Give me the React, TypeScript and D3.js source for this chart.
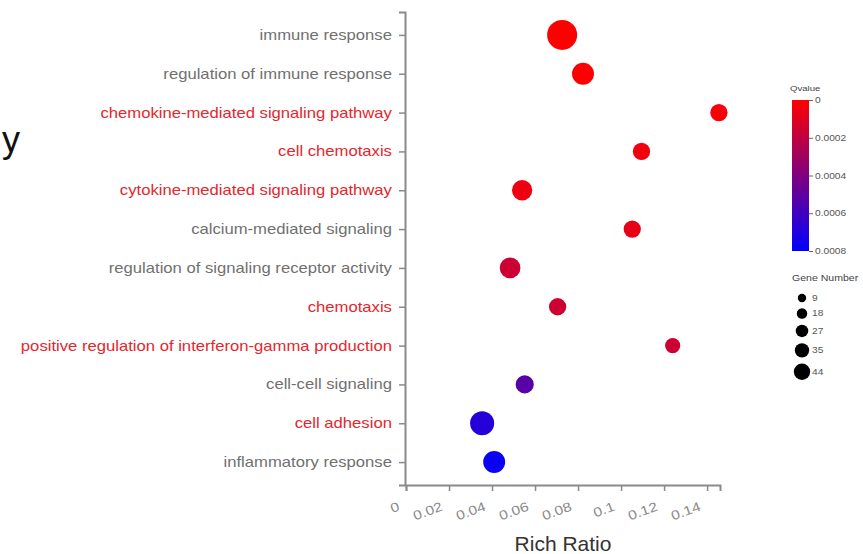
import { useEffect, useRef } from 'react';
import * as d3 from 'd3';

// GO terms, top to bottom
const terms = [
  'immune response',
  'regulation of immune response',
  'chemokine-mediated signaling pathway',
  'cell chemotaxis',
  'cytokine-mediated signaling pathway',
  'calcium-mediated signaling',
  'regulation of signaling receptor activity',
  'chemotaxis',
  'positive regulation of interferon-gamma production',
  'cell-cell signaling',
  'cell adhesion',
  'inflammatory response',
];
const highlighted = [
  'chemokine-mediated signaling pathway',
  'cell chemotaxis',
  'cytokine-mediated signaling pathway',
  'chemotaxis',
  'positive regulation of interferon-gamma production',
  'cell adhesion',
];
const richRatio = [0.0726, 0.0823, 0.1455, 0.1095, 0.0540, 0.1052, 0.0484, 0.0705, 0.1240, 0.0552, 0.0354, 0.0410];
const geneNumber = [44, 25, 14, 14, 21, 14, 22, 14, 9, 16, 30, 25];
const qValue = [0.000003, 0.00001, 0.00002, 0.00004, 0.00005, 0.00007, 0.00016, 0.00016, 0.00016, 0.00052, 0.00068, 0.00077];

const xTicks = [0, 0.02, 0.04, 0.06, 0.08, 0.1, 0.12, 0.14];
const qTicks = [0, 0.0002, 0.0004, 0.0006, 0.0008];
const sizeTicks = [9, 18, 27, 35, 44];

const W = 863;
const H = 554;
const FONT = 'Arial, "Liberation Sans", sans-serif';
const AXIS = '#8a8a8a';
const GREY_TEXT = '#707070';
const RED_TEXT = '#e5262d';

const App = () => {
  const ref = useRef<SVGSVGElement>(null);

  useEffect(() => {
    if (!ref.current) return;
    const svg = d3.select(ref.current);
    svg.selectAll('*').remove();

    const x = d3.scaleLinear().domain([0, 0.146]).range([406, 720]);
    const y = d3.scalePoint().domain(terms).range([12, 485]).padding(0.59);
    const color = d3.scaleLinear<string>().domain([0, 0.0008]).range(['#ff0000', '#0000ff']);
    const size = d3.scaleLinear().domain([9, 44]).range([7.6, 15]);
    const legendSize = d3.scaleLinear().domain([9, 44]).range([4.2, 8.2]);

    // left fragment of a cut-off title
    svg.append('text')
      .attr('x', 2)
      .attr('y', 152)
      .style('font-family', FONT)
      .style('font-size', '36px')
      .attr('fill', '#111')
      .text('y');

    // y axis
    const yAxis = svg.append('g')
      .attr('transform', 'translate(405,0)')
      .call(d3.axisLeft(y).tickSize(6).tickPadding(5));
    yAxis.select('.domain').attr('stroke', AXIS).attr('stroke-width', 2);
    yAxis.selectAll('.tick line').attr('stroke', AXIS).attr('stroke-width', 1.5);
    yAxis.selectAll<SVGTextElement, string>('.tick text')
      .style('font-family', FONT)
      .style('font-size', '14px')
      .attr('fill', d => (highlighted.includes(d) ? RED_TEXT : GREY_TEXT))
      .attr('transform', 'scale(1.19,1)');

    // x axis
    const xAxis = svg.append('g')
      .attr('transform', 'translate(0,485)')
      .call(d3.axisBottom(x).tickValues(xTicks).tickSize(6).tickFormat(d => String(d)));
    xAxis.select('.domain').attr('stroke', AXIS).attr('stroke-width', 2);
    xAxis.selectAll('.tick line').attr('stroke', AXIS).attr('stroke-width', 1.5);
    xAxis.selectAll('.tick text')
      .attr('x', 0)
      .attr('y', 0)
      .attr('dy', 0)
      .style('text-anchor', 'end')
      .style('font-family', FONT)
      .style('font-size', '13px')
      .attr('fill', '#8a8a8a')
      .attr('transform', 'translate(-6,25) rotate(-20) scale(1.2,1)');

    svg.append('text')
      .attr('x', (x.range()[0] + x.range()[1]) / 2)
      .attr('y', 551)
      .style('text-anchor', 'middle')
      .style('font-family', FONT)
      .style('font-size', '21px')
      .attr('fill', '#333')
      .text('Rich Ratio');

    // bubbles
    svg.append('g')
      .selectAll('circle')
      .data(terms)
      .enter()
      .append('circle')
      .attr('cx', (_, i) => x(richRatio[i]))
      .attr('cy', d => y(d) || 0)
      .attr('r', (_, i) => size(geneNumber[i]))
      .attr('fill', (_, i) => color(qValue[i]));

    // Qvalue colour bar
    const defs = svg.append('defs');
    const grad = defs.append('linearGradient')
      .attr('id', 'qgrad')
      .attr('x1', 0).attr('y1', 0).attr('x2', 0).attr('y2', 1);
    grad.append('stop').attr('offset', '0%').attr('stop-color', color(0));
    grad.append('stop').attr('offset', '100%').attr('stop-color', color(0.0008));

    const qScale = d3.scaleLinear().domain([0, 0.0008]).range([100, 251]);
    svg.append('text')
      .attr('x', 0)
      .attr('y', 0)
      .attr('transform', 'translate(790,91) scale(1.2,1)')
      .style('font-family', FONT)
      .style('font-size', '8px')
      .attr('fill', '#444')
      .text('Qvalue');
    svg.append('rect')
      .attr('x', 792)
      .attr('y', 100)
      .attr('width', 17)
      .attr('height', 151)
      .attr('fill', 'url(#qgrad)');
    const qAxis = svg.append('g')
      .attr('transform', 'translate(809,0)')
      .call(d3.axisRight(qScale).tickValues(qTicks).tickSize(4).tickPadding(1).tickFormat(d => String(d)));
    qAxis.select('.domain').remove();
    qAxis.selectAll('.tick line').attr('stroke', '#666');
    qAxis.selectAll('.tick text')
      .style('font-family', FONT)
      .style('font-size', '8.5px')
      .attr('fill', '#555')
      .attr('transform', 'scale(1.2,1)');

    // Gene Number legend
    svg.append('text')
      .attr('x', 0)
      .attr('y', 0)
      .attr('transform', 'translate(792,281) scale(1.2,1)')
      .style('font-family', FONT)
      .style('font-size', '8.8px')
      .attr('fill', '#444')
      .text('Gene Number');
    const legendY: number[] = [];
    sizeTicks.forEach((n, i) => {
      const prev = i === 0 ? 298 - legendSize(n) - 6 : legendY[i - 1] + legendSize(sizeTicks[i - 1]);
      legendY.push(prev + 6 + legendSize(n));
    });
    const lg = svg.append('g');
    lg.selectAll('circle')
      .data(sizeTicks)
      .enter()
      .append('circle')
      .attr('cx', 802)
      .attr('cy', (_, i) => legendY[i])
      .attr('r', d => legendSize(d))
      .attr('fill', '#000');
    lg.selectAll('text')
      .data(sizeTicks)
      .enter()
      .append('text')
      .attr('x', 0)
      .attr('y', 0)
      .attr('dy', '0.35em')
      .attr('transform', (_, i) => `translate(812,${legendY[i]}) scale(1.2,1)`)
      .style('font-family', FONT)
      .style('font-size', '8.5px')
      .attr('fill', '#555')
      .text(d => String(d));
  }, []);

  return (
    <div style={{ position: 'absolute', left: 0, top: 0, width: W, height: H, overflow: 'hidden', background: '#fff' }}>
      <svg ref={ref} width={W} height={H} />
    </div>
  );
};

export default App;
